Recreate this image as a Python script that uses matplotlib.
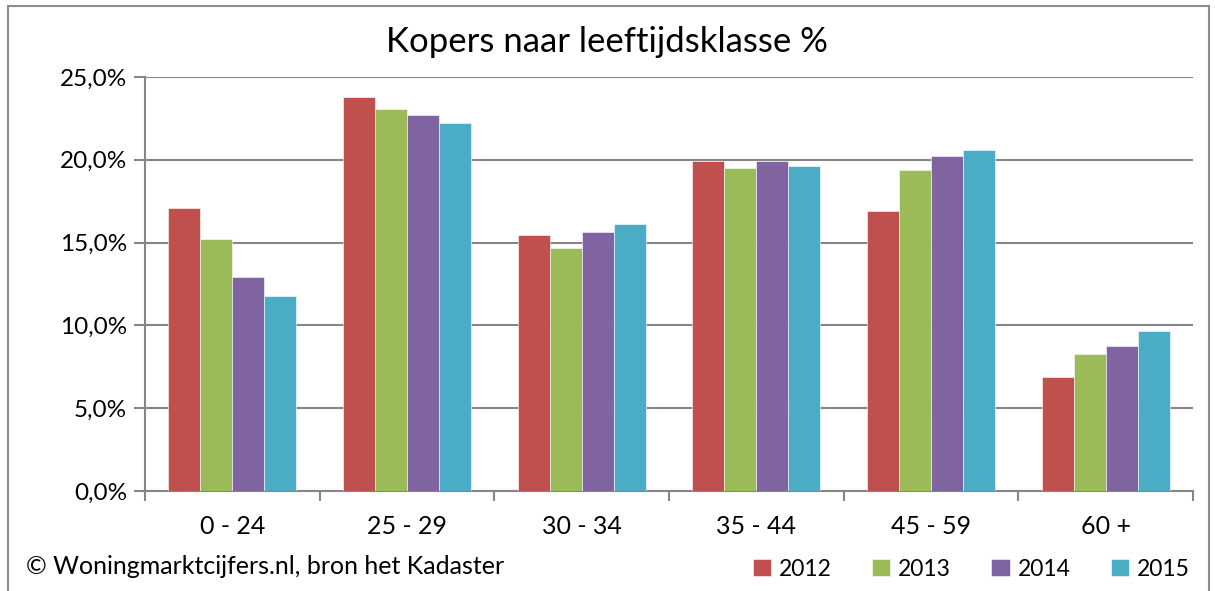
import numpy as np
import matplotlib.pyplot as plt
from matplotlib.patches import Rectangle
from matplotlib.ticker import FuncFormatter

plt.rcParams["font.family"] = ["Lato", "DejaVu Sans"]

categories = ["0 - 24", "25 - 29", "30 - 34", "35 - 44", "45 - 59", "60 +"]
years = ["2012", "2013", "2014", "2015"]
v2012 = [17.1, 23.8, 15.45, 19.95, 16.9, 6.9]
v2013 = [15.2, 23.05, 14.65, 19.5, 19.4, 8.3]
v2014 = [12.9, 22.7, 15.65, 19.9, 20.2, 8.75]
v2015 = [11.8, 22.25, 16.15, 19.6, 20.6, 9.65]
series = [v2012, v2013, v2014, v2015]
colors = ["#c0504d", "#9bbb59", "#8064a2", "#4bacc6"]

fig = plt.figure(figsize=(12.15, 5.91), dpi=100)
ax = fig.add_axes([145 / 1215, 1 - 491 / 591, (1193 - 145) / 1215, (491 - 77) / 591])

# outer chart frame
fig.patches.append(Rectangle((8 / 1215, -0.01), (1209 - 8) / 1215, 1 - 6 / 591 + 0.01,
                             transform=fig.transFigure, fill=False,
                             edgecolor="#8c8c8c", lw=1.5))

x = np.arange(len(categories))
w = 0.183
for i, (vals, c) in enumerate(zip(series, colors)):
    ax.bar(x + (i - 1.5) * w, vals, width=w, color=c, edgecolor="white",
           linewidth=0.4, zorder=3, label=years[i])

ax.set_xlim(-0.5, len(categories) - 0.5)
ax.set_ylim(0, 25)
ax.set_yticks(np.arange(0, 26, 5))
ax.yaxis.set_major_formatter(FuncFormatter(lambda v, _: f"{v:.1f}%".replace(".", ",")))
ax.grid(axis="y", color="#868686", lw=1.5, zorder=0)
ax.set_xticks(x)
ax.set_xticklabels(categories)
ax.set_xticks(np.arange(-0.5, len(categories)), minor=True)
ax.tick_params(axis="x", which="major", length=0, pad=17, labelsize=18)
ax.tick_params(axis="x", which="minor", length=7, width=1.5, color="#868686", direction="out")
ax.tick_params(axis="y", length=8, width=1.5, color="#868686", labelsize=17.5, pad=5)
for s in ["top", "right"]:
    ax.spines[s].set_visible(False)
for s in ["left", "bottom"]:
    ax.spines[s].set_color("#868686")
    ax.spines[s].set_linewidth(1.5)

fig.text(607 / 1215, 1 - 42 / 591, "Kopers naar leeftijdsklasse %", ha="center",
         va="center", fontsize=25)
fig.text(26 / 1215, 1 - 567 / 591, "\u00a9 Woningmarktcijfers.nl, bron het Kadaster",
         ha="left", va="center", fontsize=18)

ax.legend(loc="center left", bbox_to_anchor=(732 / 1215, 1 - 569 / 591),
          bbox_transform=fig.transFigure,
          ncol=4, frameon=False, fontsize=16.5, handlelength=0.8, handleheight=0.8,
          columnspacing=1.75, handletextpad=0.35)

fig.savefig("out.png", dpi=100)
